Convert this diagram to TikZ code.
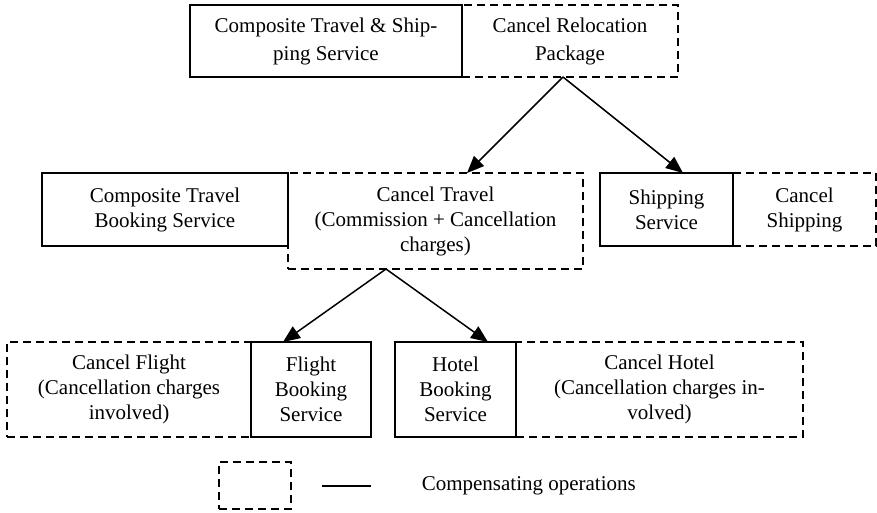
\documentclass[tikz,border=0pt]{standalone}
\usepackage{fontspec}
\setmainfont{Liberation Serif}
\usetikzlibrary{arrows.meta}
\begin{document}
\begin{tikzpicture}[x=1pt,y=-1pt,
  box/.style={rectangle,inner sep=0pt,align=center,line width=1.5pt,
    font=\fontsize{21pt}{25pt}\selectfont},
  solidbox/.style={box,draw=black},
  dashbox/.style={box,draw=black,dash pattern=on 8pt off 5pt},
  arr/.style={line width=1.5pt,-{Triangle[length=17pt,width=14pt]}}]
\useasboundingbox (0,0) rectangle (877,512);
% compensating operations (dashed) first, services on top
\node[dashbox,minimum width=216pt,minimum height=72pt] (crp) at (570,41) {Cancel Relocation\\[3pt]Package};
\node[solidbox,minimum width=272pt,minimum height=72pt] (ctss) at (326,41) {Composite Travel \& Ship-\\[3pt]ping Service};

\node[dashbox,minimum width=295pt,minimum height=96pt] (ct) at (435.5,221) {Cancel Travel\\(Commission + Cancellation\\charges)};
\node[solidbox,minimum width=246pt,minimum height=73pt] (ctbs) at (165,209.5) {Composite Travel\\Booking Service};

\node[dashbox,minimum width=143pt,minimum height=73pt] (cs) at (804.5,209.5) {Cancel\\Shipping};
\node[solidbox,minimum width=133pt,minimum height=73pt] (ss) at (666.5,209.5) {Shipping\\Service};

\node[dashbox,minimum width=244pt,minimum height=95pt] (cf) at (129,389.5) {Cancel Flight\\(Cancellation charges\\involved)};
\node[solidbox,minimum width=120pt,minimum height=95pt] (fbs) at (311,389.5) {Flight\\Booking\\Service};

\node[dashbox,minimum width=287pt,minimum height=95pt] (ch) at (659.5,389.5) {Cancel Hotel\\(Cancellation charges in-\\volved)};
\node[solidbox,minimum width=121pt,minimum height=95pt] (hbs) at (455.5,389.5) {Hotel\\Booking\\Service};

% connector end points on the box edges
\coordinate (crpout) at (563,77);
\coordinate (ctin) at (467,173);
\coordinate (ssin) at (683,173);
\coordinate (ctout) at (386,269);
\coordinate (fbsin) at (283,342);
\coordinate (hbsin) at (488,342);
\draw[arr] (crpout) -- (ctin);
\draw[arr] (crpout) -- (ssin);
\draw[arr] (ctout) -- (fbsin);
\draw[arr] (ctout) -- (hbsin);

% legend
\node[dashbox,minimum width=72pt,minimum height=47pt] (lgbox) at (255,485.5) {};
\coordinate (lga) at (322,486);
\coordinate (lgb) at (371,486);
\draw[line width=1.5pt] (lga) -- (lgb);
\node[box,anchor=west] (lgtext) at (421,486) {Compensating operations};
\end{tikzpicture}
\end{document}
